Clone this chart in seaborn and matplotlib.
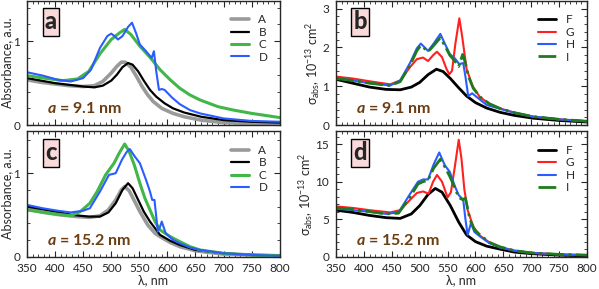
import matplotlib
matplotlib.use("Agg")
import matplotlib.pyplot as plt
from matplotlib.ticker import MultipleLocator
import seaborn as sns
import pandas as pd

# ---- data (wavelength in nm) ----
# panel a, size 9.1 nm
a_A_wl = [350, 375, 400, 425, 450, 470, 485, 500, 510, 518, 525, 535, 545, 555, 565, 575, 590, 610, 630, 660, 700, 750, 800]
a_A = [0.54, 0.51, 0.49, 0.47, 0.46, 0.47, 0.52, 0.62, 0.70, 0.75, 0.75, 0.69, 0.58, 0.46, 0.36, 0.28, 0.20, 0.14, 0.10, 0.06, 0.03, 0.02, 0.01]
a_B_wl = [350, 375, 400, 425, 450, 470, 485, 500, 510, 520, 530, 538, 548, 558, 569, 580, 595, 610, 630, 660, 700, 750, 800]
a_B = [0.56, 0.53, 0.50, 0.48, 0.46, 0.45, 0.47, 0.53, 0.60, 0.69, 0.74, 0.72, 0.64, 0.53, 0.42, 0.34, 0.26, 0.20, 0.15, 0.10, 0.06, 0.04, 0.03]
a_C_wl = [350, 380, 414, 440, 460, 480, 500, 515, 524, 535, 551, 570, 587, 605, 622, 640, 658, 690, 717, 750, 800]
a_C = [0.59, 0.56, 0.53, 0.55, 0.64, 0.85, 1.02, 1.10, 1.14, 1.08, 0.94, 0.80, 0.66, 0.54, 0.44, 0.36, 0.30, 0.22, 0.18, 0.14, 0.09]
a_D_wl = [350, 378, 405, 428, 450, 464, 480, 493, 500, 506, 512, 520, 530, 537, 544, 551, 562, 572, 576, 580, 585, 590, 595, 608, 622, 640, 658, 700, 750, 800]
a_D = [0.63, 0.59, 0.54, 0.52, 0.56, 0.66, 0.92, 1.06, 1.09, 1.06, 1.02, 1.06, 1.17, 1.22, 1.10, 0.96, 0.88, 0.80, 0.88, 0.65, 0.42, 0.43, 0.42, 0.33, 0.25, 0.18, 0.14, 0.08, 0.05, 0.04]

# panel b, size 9.1 nm (10^-13 cm^2)
b_F_wl = [350, 380, 410, 440, 465, 485, 500, 515, 530, 542, 555, 570, 584, 600, 620, 644, 670, 703, 750, 800]
b_F = [1.18, 1.08, 0.98, 0.92, 0.91, 0.98, 1.10, 1.30, 1.44, 1.38, 1.20, 0.96, 0.75, 0.58, 0.44, 0.33, 0.25, 0.18, 0.12, 0.08]
b_G_wl = [350, 380, 410, 447, 465, 483, 495, 506, 515, 524, 531, 540, 548, 553, 558, 564, 571, 576, 584, 595, 608, 625, 644, 670, 703, 750, 800]
b_G = [1.25, 1.20, 1.13, 1.05, 1.15, 1.50, 1.70, 1.74, 1.65, 1.80, 1.89, 1.75, 1.45, 1.31, 1.40, 2.10, 2.75, 2.30, 1.45, 1.00, 0.72, 0.55, 0.43, 0.32, 0.22, 0.15, 0.10]
b_H_wl = [350, 380, 410, 447, 465, 483, 495, 502, 509, 515, 525, 537, 545, 554, 563, 571, 578, 582, 587, 594, 600, 620, 644, 670, 703, 750, 800]
b_H = [1.21, 1.15, 1.08, 1.02, 1.15, 1.61, 1.98, 2.10, 2.00, 1.91, 2.10, 2.35, 2.10, 1.83, 1.72, 1.57, 1.60, 1.25, 0.75, 0.82, 0.75, 0.52, 0.42, 0.32, 0.22, 0.15, 0.10]
b_I_wl = [350, 380, 410, 447, 465, 483, 495, 502, 509, 515, 525, 537, 545, 554, 563, 570, 577, 582, 587, 596, 608, 625, 644, 670, 703, 750, 800]
b_I = [1.20, 1.15, 1.08, 1.02, 1.12, 1.55, 1.92, 2.05, 1.97, 1.89, 2.05, 2.25, 2.05, 1.80, 1.65, 1.51, 1.82, 1.60, 1.27, 0.95, 0.73, 0.55, 0.43, 0.32, 0.22, 0.15, 0.10]

# panel c, size 15.2 nm
c_A_wl = [350, 380, 410, 440, 462, 480, 495, 508, 518, 524, 532, 542, 551, 565, 578, 587, 605, 622, 650, 700, 750, 800]
c_A = [0.57, 0.53, 0.50, 0.48, 0.47, 0.49, 0.56, 0.68, 0.80, 0.84, 0.79, 0.66, 0.54, 0.38, 0.28, 0.24, 0.17, 0.12, 0.07, 0.03, 0.02, 0.01]
c_B_wl = [350, 393, 430, 460, 480, 495, 508, 520, 530, 538, 548, 558, 569, 587, 605, 622, 650, 700, 750, 800]
c_B = [0.60, 0.55, 0.50, 0.48, 0.48, 0.53, 0.64, 0.80, 0.88, 0.82, 0.68, 0.54, 0.42, 0.26, 0.19, 0.14, 0.08, 0.04, 0.02, 0.01]
c_C_wl = [350, 390, 428, 445, 462, 475, 490, 505, 515, 524, 532, 541, 551, 560, 569, 578, 587, 605, 622, 640, 658, 700, 750, 800]
c_C = [0.56, 0.52, 0.49, 0.54, 0.64, 0.78, 0.98, 1.12, 1.25, 1.35, 1.26, 1.10, 0.88, 0.70, 0.56, 0.42, 0.32, 0.24, 0.18, 0.12, 0.08, 0.04, 0.02, 0.01]
c_D_wl = [350, 378, 405, 428, 450, 462, 480, 496, 508, 519, 527, 533, 542, 551, 562, 569, 573, 577, 583, 587, 590, 597, 610, 622, 640, 658, 700, 750, 800]
c_D = [0.62, 0.58, 0.55, 0.53, 0.55, 0.58, 0.78, 0.98, 1.00, 1.16, 1.25, 1.29, 1.20, 1.12, 0.92, 0.78, 0.68, 0.68, 0.30, 0.36, 0.42, 0.28, 0.20, 0.16, 0.11, 0.08, 0.04, 0.02, 0.01]

# panel d, size 15.2 nm (10^-13 cm^2)
d_F_wl = [350, 380, 410, 440, 465, 485, 500, 515, 528, 540, 555, 570, 584, 600, 620, 644, 670, 700, 750, 800]
d_F = [6.2, 5.9, 5.5, 5.2, 5.1, 5.7, 6.8, 8.3, 9.1, 8.6, 6.8, 4.6, 2.9, 2.0, 1.4, 1.0, 0.6, 0.4, 0.2, 0.1]
d_G_wl = [350, 380, 410, 447, 465, 483, 495, 506, 516, 524, 531, 540, 550, 556, 563, 570, 575, 580, 586, 596, 608, 625, 644, 670, 700, 750, 800]
d_G = [6.7, 6.5, 6.2, 5.9, 6.2, 7.6, 8.5, 8.7, 8.4, 10.0, 10.9, 10.0, 7.9, 8.6, 12.0, 15.6, 13.0, 9.0, 6.2, 4.0, 2.8, 1.9, 1.3, 0.8, 0.5, 0.3, 0.2]
d_H_wl = [350, 380, 410, 440, 462, 483, 497, 506, 515, 525, 535, 545, 554, 563, 570, 578, 582, 586, 592, 598, 608, 625, 644, 670, 700, 750, 800]
d_H = [6.4, 6.2, 6.0, 5.7, 5.9, 8.4, 10.0, 10.3, 10.3, 12.3, 13.9, 12.2, 11.3, 9.4, 8.2, 7.6, 5.0, 2.9, 4.5, 3.3, 2.7, 1.8, 1.2, 0.8, 0.5, 0.3, 0.2]
d_I_wl = [350, 380, 410, 440, 462, 483, 497, 506, 515, 525, 537, 545, 554, 563, 570, 577, 582, 590, 598, 608, 625, 644, 670, 700, 750, 800]
d_I = [6.5, 6.3, 6.0, 5.7, 5.8, 8.0, 9.7, 10.0, 10.2, 11.8, 13.0, 12.0, 10.7, 9.2, 7.9, 7.6, 7.8, 5.0, 3.6, 2.9, 1.9, 1.3, 0.8, 0.5, 0.3, 0.2]

sns.set_style("ticks")
plt.rcParams['font.family'] = ['Lato', 'DejaVu Sans']
plt.rcParams['mathtext.fontset'] = 'custom'
plt.rcParams['mathtext.rm'] = 'Lato'
plt.rcParams['mathtext.it'] = 'Lato:italic:bold'

fig = plt.figure(figsize=(5.99, 2.89), dpi=100)
ax_a = fig.add_axes([0.045, 0.567, 0.422, 0.430])
ax_c = fig.add_axes([0.045, 0.112, 0.422, 0.433])
ax_b = fig.add_axes([0.561, 0.567, 0.419, 0.430])
ax_d = fig.add_axes([0.561, 0.112, 0.419, 0.433])

abs_style = {'A': ('#999b9a', 2.6, '-'), 'B': ('black', 1.6, '-'),
             'C': ('#41b649', 2.2, '-'), 'D': ('#2a5cff', 1.5, '-')}
sig_style = {'F': ('black', 2.0, '-'), 'G': ('#ff2020', 1.5, '-'),
             'H': ('#2a5cff', 1.5, '-'), 'I': ('#1f7a1f', 2.0, '-.')}

panels = [
    (ax_a, 'a', '9.1', abs_style, [('A', a_A_wl, a_A), ('B', a_B_wl, a_B), ('C', a_C_wl, a_C), ('D', a_D_wl, a_D)], 1.48),
    (ax_b, 'b', '9.1', sig_style, [('F', b_F_wl, b_F), ('G', b_G_wl, b_G), ('H', b_H_wl, b_H), ('I', b_I_wl, b_I)], 3.2),
    (ax_c, 'c', '15.2', abs_style, [('A', c_A_wl, c_A), ('B', c_B_wl, c_B), ('C', c_C_wl, c_C), ('D', c_D_wl, c_D)], 1.5),
    (ax_d, 'd', '15.2', sig_style, [('F', d_F_wl, d_F), ('G', d_G_wl, d_G), ('H', d_H_wl, d_H), ('I', d_I_wl, d_I)], 16.7),
]

brown = '#6b3d12'
for ax, letter, size, style, series, ytop in panels:
    for name, wl, vals in series:
        col, lw, ls = style[name]
        df = pd.DataFrame({'wl': wl, 'v': vals})
        sns.lineplot(data=df, x='wl', y='v', ax=ax, color=col, lw=lw, ls=ls,
                     label=name, sort=False)
    ax.set_xlim(350, 800)
    ax.set_ylim(0, ytop)
    ax.xaxis.set_major_locator(MultipleLocator(50))
    ax.xaxis.set_minor_locator(MultipleLocator(10))
    ax.tick_params(which='both', direction='in', top=True, right=True, labelsize=8.5)
    ax.tick_params(axis='x', pad=4.5)
    ax.tick_params(axis='y', pad=5)
    ax.tick_params(which='major', length=4, width=0.8)
    ax.tick_params(which='minor', length=2, width=0.6)
    for s in ax.spines.values():
        s.set_linewidth(1.0)
    ax.set_xlabel('')
    ax.set_ylabel('')
    ax.legend(loc='upper right', bbox_to_anchor=(0.97, 0.93), frameon=False,
              fontsize=8.5, handlelength=1.5, handletextpad=0.8,
              labelspacing=0.12, borderaxespad=0)
    ax.text(0.095, 0.83, letter, transform=ax.transAxes, fontsize=17, fontweight='black',
            ha='center', va='center',
            bbox=dict(boxstyle='square,pad=0.1', fc='#f9d9d9', ec='black', lw=1.0))
    ax.text(0.08, 0.07, '$a$ = ' + size + ' nm', transform=ax.transAxes, fontsize=11.5,
            fontweight='bold', color=brown, ha='left', va='bottom')

for ax in (ax_a, ax_c):
    ax.yaxis.set_major_locator(MultipleLocator(1))
    ax.yaxis.set_minor_locator(MultipleLocator(0.2))
    ax.set_ylabel('Absorbance, a.u.', fontsize=9, labelpad=0)
ax_b.yaxis.set_major_locator(MultipleLocator(1))
ax_b.yaxis.set_minor_locator(MultipleLocator(0.2))
ax_d.yaxis.set_major_locator(MultipleLocator(5))
ax_d.yaxis.set_minor_locator(MultipleLocator(1))
for ax in (ax_b, ax_d):
    ax.set_ylabel('σ$_{\\mathrm{abs}}$, 10$^{\\mathrm{-13}}$ cm$^{\\mathrm{2}}$', fontsize=9, labelpad=0)

for ax in (ax_a, ax_b):
    ax.tick_params(labelbottom=False)
for ax in (ax_c, ax_d):
    ax.set_xlabel('λ, nm', fontsize=9, labelpad=0)

fig.savefig('out.png', dpi=100)
